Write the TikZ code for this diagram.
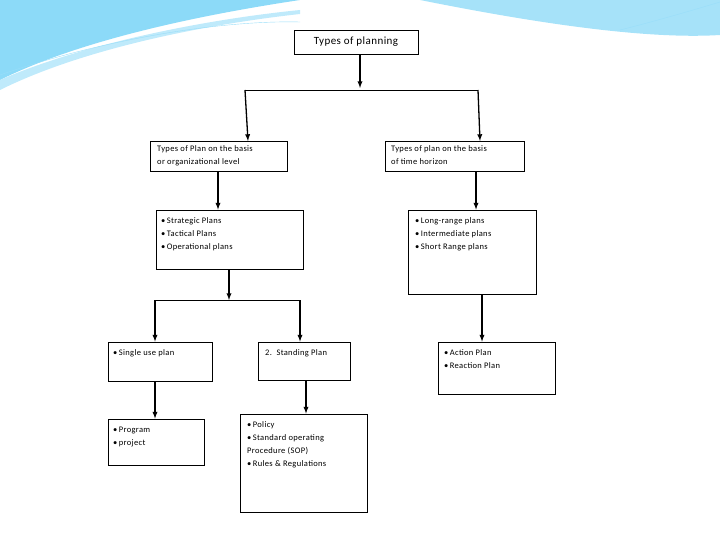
\documentclass[tikz,border=0pt]{standalone}
\usepackage{fontspec}
\setmainfont[LetterSpace=4]{Carlito}
\begin{document}
\begin{tikzpicture}[x=1pt,y=-1pt,
  bx/.style={draw,thick,inner sep=0pt},
  tx/.style={anchor=north west,font=\fontsize{8.5}{13}\selectfont,align=left,inner sep=0pt},
  ar/.style={-latex,line width=1.3pt}]
\useasboundingbox (0,0) rectangle (720,540);
% decoration
\fill[cyan!45!white] (0,0) -- (300,0) .. controls (200,15) and (80,40) .. (0,80) -- cycle;
\fill[cyan!25!white] (0,80) .. controls (80,45) and (200,20) .. (300,10) -- (300,14) .. controls (200,25) and (80,50) .. (0,90) -- cycle;
\fill[cyan!35!white] (420,0) -- (720,0) -- (720,35) .. controls (640,40) and (520,20) .. (420,0) -- cycle;
\draw[cyan!40] (0,75) .. controls (100,40) and (220,20) .. (300,22);
\draw[cyan!40] (620,30) .. controls (660,20) and (700,8) .. (720,2);
% nodes
\node[bx,fill=white,minimum width=124pt,minimum height=24pt,font=\fontsize{11}{13}\selectfont] (t) at (356,42) {Types of planning};
\coordinate (tb) at (360,88);
\coordinate (hl) at (245,90); \coordinate (hr) at (478,90);
\coordinate (l1t) at (248,141); \coordinate (r1t) at (480,141);
\node[bx,minimum width=137pt,minimum height=30pt] (l1) at (218.5,156) {};
\node[tx] at (157,145) {Types of Plan on the basis\\or organizational level};
\node[bx,minimum width=139pt,minimum height=30pt] (r1) at (454.5,156) {};
\node[tx] at (391,145) {Types of plan on the basis\\of time horizon};
\node[bx,minimum width=147pt,minimum height=59pt] (l2) at (229.5,239.5) {};
\node[tx] at (161,217) {\textbullet\,Strategic Plans\\\textbullet\,Tactical Plans\\\textbullet\,Operational plans};
\node[bx,minimum width=128pt,minimum height=84pt] (r2) at (472,252) {};
\node[tx] at (415,217) {\textbullet\,Long-range plans\\\textbullet\,Intermediate plans\\\textbullet\,Short Range plans};
\node[bx,minimum width=104pt,minimum height=39pt] (su) at (160,361.5) {};
\node[tx] at (113,349) {\textbullet\,Single use plan};
\node[bx,minimum width=92pt,minimum height=38pt] (st) at (304,361) {};
\node[tx] at (265,349) {2.\ \ Standing Plan};
\node[bx,minimum width=117pt,minimum height=52pt] (ac) at (496.5,368) {};
\node[tx] at (444,349) {\textbullet\,Action Plan\\\textbullet\,Reaction Plan};
\node[bx,minimum width=96pt,minimum height=46pt] (pr) at (156,442) {};
\node[tx] at (113,427) {\textbullet\,Program\\\textbullet\,project};
\node[bx,minimum width=127pt,minimum height=98pt] (po) at (303.5,463) {};
\node[tx] at (247,421) {\textbullet\,Policy\\\textbullet\,Standard operating\\Procedure (SOP)\\\textbullet\,Rules \& Regulations};
\coordinate (ml) at (155,300); \coordinate (mr) at (300,300);
% connectors
\draw[ar] (t.south -| tb) -- (tb);
\draw[thick] (hl) -- (hr);
\draw[ar] (hl) -- (l1t);
\draw[ar] (hr) -- (r1t);
\draw[ar] (l1.south -| 218,0) -- (l2.north -| 218,0);
\draw[ar] (r1.south -| 476,0) -- (r2.north -| 476,0);
\draw[ar] (l2.south -| 229,0) -- (229,300);
\draw[thick] (ml) -- (mr);
\draw[ar] (ml) -- (su.north -| ml);
\draw[ar] (mr) -- (st.north -| mr);
\draw[ar] (r2.south -| 482,0) -- (ac.north -| 482,0);
\draw[ar] (su.south -| 155,0) -- (pr.north -| 155,0);
\draw[ar] (st.south -| 306,0) -- (po.north -| 306,0);
\end{tikzpicture}
\end{document}
